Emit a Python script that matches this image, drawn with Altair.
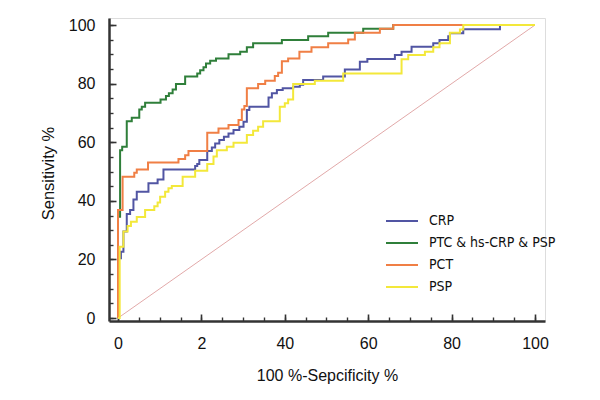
import altair as alt
import pandas as pd

# ---------------- data ----------------
series_names = ["CRP", "PTC & hs-CRP & PSP", "PCT", "PSP"]
series_colors = ["#5155a3", "#2f7f3a", "#f07f45", "#f3e83a"]

crp_x = [0, 0, 0.7, 1.3, 2.1, 2.9, 3.7, 4.5, 7.3, 9.5, 10.9, 18.5, 19.0, 19.5, 21.4, 22.5, 23.3, 24.3,
         25.4, 26.5, 27.7, 29.1, 30.1, 30.9, 31.5, 36.1, 36.9, 38.1, 39.5, 42.0, 43.6, 44.4, 49.2, 54.4,
         58.0, 59.8, 66.4, 68.0, 70.4, 75.6, 77.1, 79.2, 79.6, 82.8, 91.6, 100]
crp_y = [0, 20.4, 22.6, 29.5, 35.5, 36.9, 40.5, 43.1, 46.0, 47.3, 50.7, 51.9, 52.6, 53.9, 57.0, 58.2, 59.6, 60.8,
         61.9, 63.0, 64.2, 65.3, 67.0, 71.0, 72.1, 75.3, 76.7, 77.8, 78.4, 78.9, 79.6, 81.2, 82.4, 84.8,
         87.5, 88.4, 89.8, 90.9, 92.6, 93.8, 94.9, 96.2, 97.2, 98.6, 100, 100]

ptc_x = [0, 0, 0.5, 1.0, 2.1, 3.3, 5.1, 5.7, 6.5, 10.2, 11.5, 12.2, 13.1, 13.9, 16.1, 19.0, 19.7, 20.5,
         21.1, 22.1, 23.5, 26.5, 29.3, 30.9, 32.4, 39.3, 45.6, 50.4, 58.8, 66.0, 100]
ptc_y = [0, 34.6, 57.3, 58.5, 67.2, 68.4, 71.2, 72.1, 73.5, 74.6, 75.8, 76.7, 78.0, 79.9, 82.4, 83.5, 84.6, 85.6,
         86.9, 87.8, 88.6, 90.0, 90.9, 92.4, 93.8, 94.9, 96.2, 97.4, 98.7, 100, 100]

pct_x = [0, 0, 1.1, 3.9, 4.5, 7.2, 14.5, 16.1, 16.9, 21.4, 24.1, 26.5, 28.9, 29.7, 30.3, 30.9, 33.6, 35.3,
         37.6, 38.4, 39.3, 40.8, 43.5, 46.4, 50.4, 55.2, 56.8, 62.8, 66.0, 100]
pct_y = [0, 36.9, 48.2, 49.6, 50.7, 53.1, 54.3, 55.6, 57.0, 63.2, 64.7, 65.9, 67.6, 71.2, 72.4, 78.4, 79.9, 81.0,
         82.6, 83.7, 87.6, 88.6, 90.9, 92.4, 93.8, 95.1, 97.4, 98.7, 100, 100]

psp_x = [0, 0.4, 1.3, 2.3, 3.1, 4.5, 6.5, 8.7, 9.5, 10.1, 11.3, 12.1, 12.9, 15.5, 18.5, 21.4, 22.9, 23.7,
         26.1, 27.7, 30.9, 32.4, 33.6, 34.8, 38.8, 40.0, 40.8, 42.0, 47.2, 54.0, 68.0, 69.6, 73.6, 75.6,
         77.1, 79.6, 82.0, 82.8, 100]
psp_y = [0, 24.3, 29.5, 31.4, 32.9, 34.5, 36.9, 38.2, 39.4, 41.4, 43.1, 44.3, 45.1, 48.2, 50.3, 52.6, 55.1, 57.3,
         58.5, 59.8, 62.5, 63.9, 65.3, 67.2, 72.1, 73.3, 74.6, 79.9, 81.0, 83.5, 88.3, 89.8, 90.9, 92.4,
         93.8, 97.4, 98.5, 100, 100]

diag_x = [0, 100]
diag_y = [0, 100]

major_ticks = [0, 20, 40, 60, 80, 100]
minor_ticks = [0, 5, 10, 15, 20, 25, 30, 35, 40, 45, 50, 55, 60, 65, 70, 75, 80, 85, 90, 95, 100]

x_title = "100 %-Sepcificity %"
y_title = "Sensitivity %"

# ---------------- tables ----------------
rows = []
for name, xs_, ys_ in zip(series_names, [crp_x, ptc_x, pct_x, psp_x], [crp_y, ptc_y, pct_y, psp_y]):
    for i, (a, b) in enumerate(zip(xs_, ys_)):
        rows.append({"fpr": a, "tpr": b, "series": name, "idx": i})
curves = pd.DataFrame(rows)
diag = pd.DataFrame({"x": diag_x, "y": diag_y})

FONT = "Liberation Sans"
LFONT = "DejaVu Sans Condensed"
W, H = 436, 303
xs = alt.Scale(domain=[-2.16, 102.4], nice=False, zero=False)
ys = alt.Scale(domain=[-1.0, 102.4], nice=False, zero=False)

# major inward ticks
diag_layer = alt.Chart(diag).mark_line(color="#e2a9a9", strokeWidth=1).encode(
    x=alt.X("x:Q", scale=xs, axis=alt.Axis(orient="top", offset=-H, values=major_ticks, labels=False,
                                           domain=False, grid=False, tickSize=7, tickWidth=1.6,
                                           tickColor="#333333", title=None)),
    y=alt.Y("y:Q", scale=ys, axis=alt.Axis(orient="right", offset=-W, values=major_ticks, labels=False,
                                           domain=False, grid=False, tickSize=7, tickWidth=1.6,
                                           tickColor="#333333", title=None)),
)

# minor inward ticks
minor_layer = alt.Chart(diag).mark_line(strokeOpacity=0).encode(
    x=alt.X("x:Q", scale=xs, axis=alt.Axis(orient="top", offset=-H, values=minor_ticks, labels=False,
                                           domain=False, grid=False, tickSize=4, tickWidth=1.4,
                                           tickColor="#333333", title=None)),
    y=alt.Y("y:Q", scale=ys, axis=alt.Axis(orient="right", offset=-W, values=minor_ticks, labels=False,
                                           domain=False, grid=False, tickSize=4, tickWidth=1.4,
                                           tickColor="#333333", title=None)),
)

curve_layer = alt.Chart(curves).mark_line(interpolate="step-after", strokeWidth=2).encode(
    x=alt.X("fpr:Q", scale=xs, axis=alt.Axis(
        orient="bottom", values=major_ticks, ticks=False, tickSize=0, grid=False,
        domain=True, domainColor="#333333", domainWidth=2.5,
        labelExpr="datum.value == 20 ? '2' : datum.label",
        labelPadding=14, labelFont=FONT, labelFontSize=16, labelColor="#111111",
        title=x_title, titleFont=FONT, titleFontSize=16, titleFontWeight="normal", titleColor="#111111",
        titleY=59, titleBaseline="alphabetic")),
    y=alt.Y("tpr:Q", scale=ys, axis=alt.Axis(
        orient="left", values=major_ticks, ticks=False, tickSize=0, grid=False,
        domain=True, domainColor="#333333", domainWidth=2.5,
        labelPadding=14, labelFont=FONT, labelFontSize=16, labelColor="#111111",
        title=y_title, titleFont=FONT, titleFontSize=16.5, titleFontWeight="normal", titleColor="#111111",
        titleX=-61, titleY=155, titleAngle=270, titleAlign="center", titleBaseline="middle")),
    color=alt.Color("series:N", sort=series_names,
                    scale=alt.Scale(domain=series_names, range=series_colors),
                    legend=alt.Legend(title=None, orient="none", legendX=284, legendY=194,
                                      symbolType="M-2,0L2,0", symbolSize=256, symbolStrokeWidth=2,
                                      labelFont=LFONT, labelFontSize=14, labelColor="#111111",
                                      labelOffset=18, rowPadding=6, padding=0)),
    order=alt.Order("idx:Q"),
)

chart = alt.layer(diag_layer, minor_layer, curve_layer).resolve_axis(
    x="independent", y="independent"
).properties(
    width=W, height=H,
    autosize=alt.AutoSizeParams(type="none"),
    padding={"left": 101, "top": 10, "right": 45, "bottom": 72},
).configure_view(stroke=None).configure(background="white")

chart.save("out.html", embed_options={"renderer": "svg", "actions": False})
